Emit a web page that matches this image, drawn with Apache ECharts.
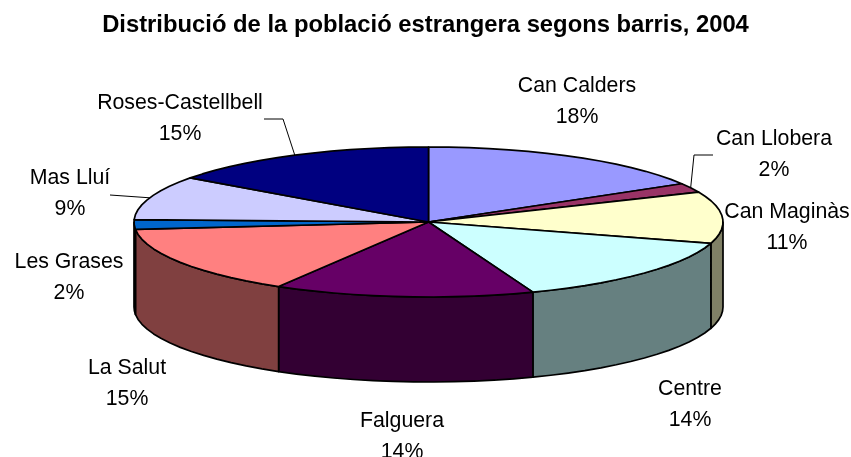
<!DOCTYPE html>
<html>
<head>
<meta charset="utf-8">
<style>html,body{margin:0;padding:0;background:#fff}#c{width:851px;height:457px}</style>
<script src="https://cdn.jsdelivr.net/npm/echarts@6/dist/echarts.min.js"></script>
</head>
<body>
<div id="c"></div>
<script>
const titleText = 'Distribució de la població estrangera segons barris, 2004';
const categories = ['Can Calders','Can Llobera','Can Maginàs','Centre','Falguera','La Salut','Les Grases','Mas Lluí','Roses-Castellbell'];
const shares = [18,2,11,14,14,15,2,9,15];
const topColors = ['#9999FF','#993366','#FFFFCC','#CCFFFF','#660066','#FF8080','#0066CC','#CCCCFF','#000080'];
const wallColors = ['#4C4C80','#4C1933','#808066','#668080','#330033','#804040','#003366','#666680','#000040'];

// layout only
const labelCentres = [[577,102],[774,155],[787,228],[690,405],[402,437],[127,384],[69,278],[70,194],[180,119]];
const leaderElbows = [null,[[694,155],[713,155]],null,null,null,null,null,[[110,195]],[[283,119],[264,119]]];
const cx = 428.5, cy = 222, rx = 294.5, ry = 75, depth = 85;

const rad = d => d * Math.PI / 180;
// the reference's 3-D view slightly shifts the apparent slice boundaries
function viewAngle(d) {
  if (d <= 180) return d - 5.5 * Math.sqrt(Math.sin(rad(d))) * (1 + 0.1 * Math.cos(rad(d)));
  if (d < 306) return d - 2.5 * Math.sin(rad((d - 180) * 180 / 126));
  return d;
}
const rim = (d, dy) => [cx + rx * Math.sin(rad(d)), cy - ry * Math.cos(rad(d)) + (dy || 0)];
const total = shares.reduce((a, b) => a + b, 0);
function arc(a, b, dy) {
  const pts = [], n = Math.max(2, Math.ceil(Math.abs(b - a) / 4));
  for (let i = 0; i <= n; i++) pts.push(rim(a + (b - a) * i / n, dy));
  return pts;
}

function renderItem(params, api) {
  const i = params.dataIndex;
  let before = 0;
  for (let k = 0; k < i; k++) before += shares[k];
  const value = api.value(0);
  const s = before / total * 360, e = (before + value) / total * 360;
  const a = viewAngle(s), b = viewAngle(e);
  const kids = [];
  const wa = Math.max(a, 90), wb = Math.min(b, 270);
  if (wb > wa) {
    const upper = arc(wa, wb, 0), lower = arc(wa, wb, depth).reverse();
    kids.push({type:'polygon', z2:1, shape:{points: upper.concat(lower)},
      style:{fill: wallColors[i], stroke:'#000', lineWidth:1.7, lineJoin:'round'}});
  }
  kids.push({type:'polygon', z2:2, shape:{points: [[cx,cy]].concat(arc(a,b,0))},
    style:{fill: topColors[i], stroke:'#000', lineWidth:1.7, lineJoin:'round'}});
  const elbows = leaderElbows[i];
  if (elbows) {
    kids.push({type:'polyline', z2:3, shape:{points:[rim(viewAngle((s+e)/2))].concat(elbows)},
      style:{fill:null, stroke:'#000', lineWidth:1}});
  }
  kids.push({type:'text', z2:4, x: labelCentres[i][0], y: labelCentres[i][1],
    style:{text: categories[i] + '\n' + value + '%', align:'center', verticalAlign:'middle',
      font:'21.3px "Liberation Sans", Arial, sans-serif', lineHeight:31, fill:'#000'}});
  return {type:'group', children:kids};
}

const chart = echarts.init(document.getElementById('c'), null, {renderer:'canvas'});
chart.setOption({
  animation:false,
  backgroundColor:'#fff',
  title:{text:titleText, left:'center', top:8,
    textStyle:{fontFamily:'"Liberation Sans", Arial, sans-serif', fontWeight:'bold', fontSize:23.8, color:'#000'}},
  series:[{type:'custom', coordinateSystem:'none', silent:true, data:shares.map(v=>[v]), renderItem}]
});
</script>
</body>
</html>
